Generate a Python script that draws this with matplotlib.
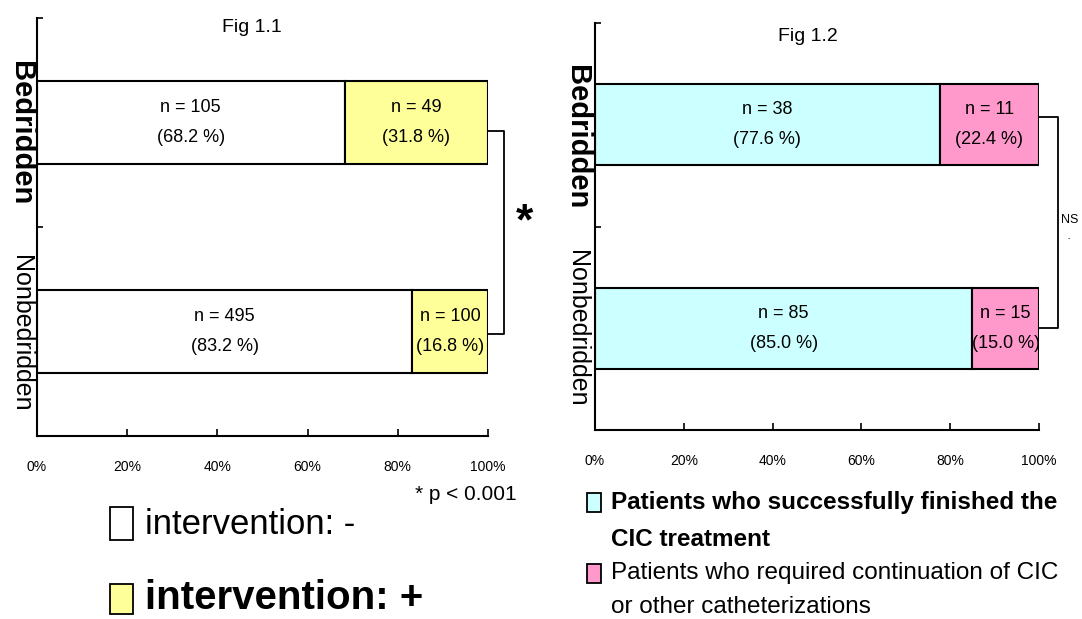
import matplotlib.pyplot as plt
from matplotlib.patches import Rectangle

plt.rcParams['font.family'] = ['Liberation Sans', 'DejaVu Sans']

groups = ['Bedridden', 'Nonbedridden']

# Fig 1.1: intervention - / +
fig1_neg_n = [105, 495]
fig1_neg_pct = [68.2, 83.2]
fig1_pos_n = [49, 100]
fig1_pos_pct = [31.8, 16.8]

# Fig 1.2: finished CIC / continued CIC
fig2_ok_n = [38, 85]
fig2_ok_pct = [77.6, 85.0]
fig2_cont_n = [11, 15]
fig2_cont_pct = [22.4, 15.0]

ticks = [0, 20, 40, 60, 80, 100]
tick_labels = ['0%', '20%', '40%', '60%', '80%', '100%']

YELLOW = '#FFFF99'
CYAN = '#CCFFFF'
PINK = '#FF99CC'

ypos = [1.5, 0.5]  # Bedridden on top


def setup_axes(ax):
    ax.set_xlim(0, 100)
    ax.set_ylim(0, 2)
    ax.spines['top'].set_visible(False)
    ax.spines['right'].set_visible(False)
    ax.spines['left'].set_linewidth(1.5)
    ax.spines['bottom'].set_linewidth(1.5)
    ax.set_xticks(ticks)
    ax.set_xticklabels(tick_labels, fontsize=10)
    ax.set_yticks([0, 1, 2])
    ax.set_yticklabels([])
    ax.tick_params(axis='x', direction='in', length=5, width=1.2, pad=17)
    ax.tick_params(axis='y', direction='in', length=4, width=1.2)


def draw_bars(ax, left_pct, left_n, right_pct, right_n, left_color, right_color):
    ax.barh(ypos, left_pct, height=0.4, color=left_color, edgecolor='black', linewidth=1.5)
    ax.barh(ypos, right_pct, left=left_pct, height=0.4, color=right_color,
            edgecolor='black', linewidth=1.5)
    for y, lp, ln, rp, rn in zip(ypos, left_pct, left_n, right_pct, right_n):
        ax.text(lp / 2, y, f'n = {ln}\n({lp:.1f} %)', ha='center', va='center',
                fontsize=13, linespacing=2.0)
        ax.text(lp + rp / 2, y, f'n = {rn}\n({rp:.1f} %)', ha='center', va='center',
                fontsize=13, linespacing=2.0)


fig = plt.figure(figsize=(10.82, 6.19), dpi=100)

# ---- Fig 1.1
ax1 = fig.add_axes([0.0342, 0.2956, 0.4168, 0.6753])
setup_axes(ax1)
draw_bars(ax1, fig1_neg_pct, fig1_neg_n, fig1_pos_pct, fig1_pos_n, 'white', YELLOW)
ax1.text(47.7, 1.955, 'Fig 1.1', ha='center', va='center', fontsize=14)
ax1.text(-0.035, 0.725, groups[0], transform=ax1.transAxes, rotation=-90,
         ha='center', va='center', fontsize=21, fontweight='bold')
ax1.text(-0.035, 0.245, groups[1], transform=ax1.transAxes, rotation=-90,
         ha='center', va='center', fontsize=18)
ax1.plot([100, 103.5, 103.5, 100], [1.46, 1.46, 0.49, 0.49], color='black',
         linewidth=1.3, clip_on=False)
ax1.text(108, 1.02, '*', ha='center', va='center', fontsize=32, fontweight='bold')

# ---- Fig 1.2
ax2 = fig.add_axes([0.5499, 0.3053, 0.4104, 0.6575])
setup_axes(ax2)
draw_bars(ax2, fig2_ok_pct, fig2_ok_n, fig2_cont_pct, fig2_cont_n, CYAN, PINK)
ax2.text(48, 1.935, 'Fig 1.2', ha='center', va='center', fontsize=14)
ax2.text(-0.04, 0.72, groups[0], transform=ax2.transAxes, rotation=-90,
         ha='center', va='center', fontsize=21, fontweight='bold')
ax2.text(-0.04, 0.25, groups[1], transform=ax2.transAxes, rotation=-90,
         ha='center', va='center', fontsize=18)
ax2.plot([100, 104.3, 104.3, 100], [1.54, 1.54, 0.50, 0.50], color='black',
         linewidth=1.3, clip_on=False)
ax2.text(106.8, 1.03, 'NS', ha='center', va='center', fontsize=9)
ax2.text(106.8, 0.94, '-', ha='center', va='center', fontsize=5)

# ---- legends / notes
fig.text(517 / 1082, 1 - 495 / 619, '* p < 0.001', ha='right', va='center', fontsize=15)


def legend_box(x0, y0, x1, y1, color):
    fig.patches.append(Rectangle((x0 / 1082, 1 - y1 / 619), (x1 - x0) / 1082,
                                 (y1 - y0) / 619, transform=fig.transFigure,
                                 facecolor=color, edgecolor='black', linewidth=1.3))


legend_box(110, 507, 133, 540, 'white')
fig.text(145 / 1082, 1 - 525 / 619, 'intervention: -', ha='left', va='center', fontsize=25)
legend_box(110, 584, 133, 614, YELLOW)
fig.text(145 / 1082, 1 - 598 / 619, 'intervention: +', ha='left', va='center',
         fontsize=29, fontweight='bold')

legend_box(587, 493, 601, 512, CYAN)
fig.text(611 / 1082, 1 - 503 / 619, 'Patients who successfully finished the',
         ha='left', va='center', fontsize=17.5, fontweight='bold')
fig.text(611 / 1082, 1 - 540 / 619, 'CIC treatment',
         ha='left', va='center', fontsize=17.5, fontweight='bold')
legend_box(587, 564, 601, 583, PINK)
fig.text(611 / 1082, 1 - 573 / 619, 'Patients who required continuation of CIC',
         ha='left', va='center', fontsize=17.5)
fig.text(611 / 1082, 1 - 607 / 619, 'or other catheterizations',
         ha='left', va='center', fontsize=17.5)

fig.savefig('out.png', dpi=100)
